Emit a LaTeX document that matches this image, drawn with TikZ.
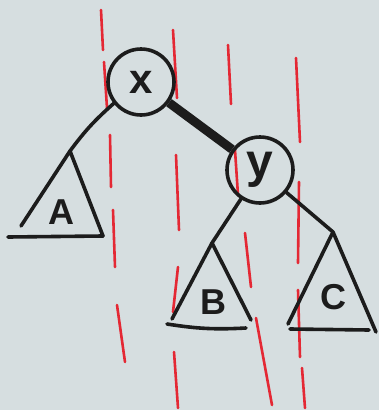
\documentclass[tikz,border=0pt]{standalone}
\usepackage{fontspec}
\setmainfont{Liberation Sans}
\definecolor{paper}{RGB}{214,222,224}
\definecolor{ink}{RGB}{28,28,28}
\definecolor{marker}{RGB}{228,40,52}
\begin{document}
\begin{tikzpicture}[x=1pt,y=-1pt,
  ink/.style={line width=3.6pt,draw=ink,line cap=round,line join=round},
  vtx/.style={circle,ink,minimum size=66pt,inner sep=0pt},
  sub/.style={font=\bfseries\fontsize{36}{36}\selectfont,inner sep=0pt,text=ink},
  guide/.style={line width=2.6pt,draw=marker,line cap=round}]
\fill[paper] (0,0) rectangle (379,410);
\useasboundingbox (0,0) rectangle (379,410);
% red strokes
\foreach \xa/\ya/\xb/\yb in {101/10/103/50, 104/62/107/108, 110/135/111/187,
  113/210/115/267, 117/305/125/362, 173/30/177/98, 176/155/179/230,
  178/267/173/312, 174/352/178/408, 228/45/231/104, 235/150/238/195,
  245/233/251/287, 256/318/272/405, 296/58/300/142, 299/182/298/263,
  298/290/300/357, 302/368/305/408}
  \draw[guide] (\xa,\ya) -- (\xb,\yb);
% tree
\node[vtx,font=\bfseries\fontsize{42}{42}\selectfont,text=ink] (x) at (141,82) {x};
\node[vtx,font=\bfseries\fontsize{48}{48}\selectfont,text=ink] (y) at (260,170) {\raisebox{-5pt}{y}};
\coordinate (At) at (70,151); \coordinate (Al) at (21,226); \coordinate (Ar) at (103,236);
\coordinate (Bt) at (212,243); \coordinate (Bl) at (172,319); \coordinate (Br) at (251,320);
\coordinate (Ct) at (333,232); \coordinate (Cl) at (288,324); \coordinate (Cr) at (376,332);
\draw[ink] (x) to[bend right=6] (At);
\draw[ink,line width=9pt,line cap=butt] (x) -- (y);
\draw[ink] (y) -- (Bt);
\draw[ink] (y) -- (Ct);
% subtrees
\draw[ink] (Al) -- (At) -- (Ar);
\draw[ink] (8,237) -- (Ar);
\draw[ink] (Bl) -- (Bt) -- (Br);
\draw[ink] (167,324) to[bend right=6] (246,328);
\draw[ink] (Cl) -- (Ct) -- (Cr);
\draw[ink] (290,329) -- (369,330);
\node[sub] (a) at (61,212) {A};
\node[sub] (b) at (213,302) {B};
\node[sub] (c) at (333,297) {C};
\end{tikzpicture}
\end{document}
